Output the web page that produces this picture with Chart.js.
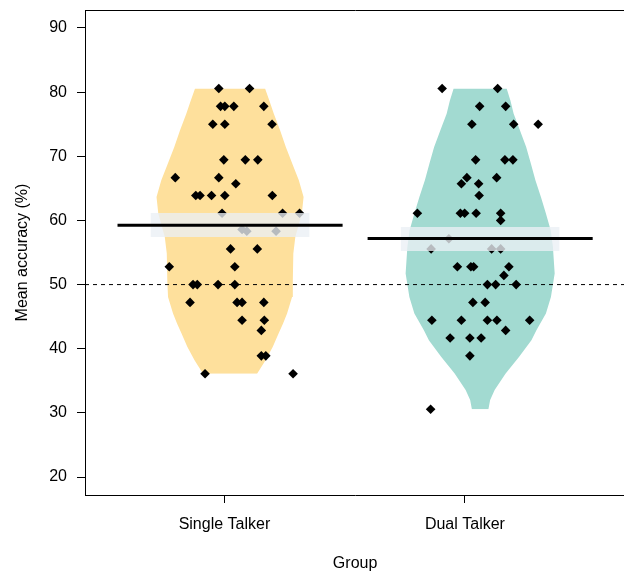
<!DOCTYPE html>
<html>
<head>
<meta charset="utf-8">
<script src="https://cdn.jsdelivr.net/npm/chart.js"></script>
<style>
  html, body { margin: 0; padding: 0; background: #fff; overflow: hidden; }
  #wrap { width: 630px; height: 571px; }
</style>
</head>
<body>
<div id="wrap"><canvas id="chart" width="630" height="571"></canvas></div>
<script>
// категории и подписи осей
const groups = ["Single Talker", "Dual Talker"];
const groupX = [1, 2];              // центры "бобов"
const tickX = [0.9775, 1.939];      // где стоят подписи групп
const yTicks = [20, 30, 40, 50, 60, 70, 80, 90];
const chance = 50;

// точки: точность (%) и горизонтальный разброс (jitter)
const singleAcc = [80.56, 80.56, 77.78, 77.78, 77.78, 77.78, 75, 75, 75, 69.44, 69.44, 69.44,
  66.67, 66.67, 65.71, 63.89, 63.89, 63.89, 63.89, 63.89, 61.11, 61.11, 61.11,
  58.6, 58.33, 58.33, 55.56, 55.56, 52.78, 52.78, 50, 50, 50, 50,
  47.22, 47.22, 47.22, 47.22, 44.44, 44.44, 42.86, 38.89, 38.89, 36.11, 36.11];
const singleJit = [-0.045, 0.078, -0.038, -0.021, 0.015, 0.135, -0.069, -0.021, 0.168, -0.025, 0.061, 0.111,
  -0.219, -0.045, 0.023, -0.137, -0.120, -0.074, -0.021, 0.169, -0.032, 0.210, 0.278,
  0.048, 0.067, 0.184, 0.002, 0.109, -0.243, 0.019, -0.148, -0.131, -0.048, 0.019,
  -0.160, 0.028, 0.048, 0.135, 0.048, 0.137, 0.125, 0.125, 0.143, -0.100, 0.252];

const dualAcc = [80.56, 80.56, 77.78, 77.78, 75, 75, 75, 69.44, 69.44, 69.44,
  66.67, 66.67, 65.71, 65.71, 63.89, 61.11, 61.11, 61.11, 61.11, 61.11, 60, 57.14,
  55.56, 55.56, 55.56, 52.78, 52.78, 52.78, 52.78, 51.43, 50, 50, 50, 47.22, 47.22,
  44.44, 44.44, 44.44, 44.44, 44.44, 42.86, 41.67, 41.67, 41.67, 38.89, 30.56];
const dualJit = [-0.152, 0.070, -0.002, 0.102, -0.033, 0.134, 0.232, -0.018, 0.099, 0.131,
  -0.053, 0.066, -0.075, -0.006, -0.004, -0.251, -0.079, -0.062, -0.016, 0.082, 0.082, -0.125,
  -0.196, 0.046, 0.082, -0.091, -0.037, -0.026, 0.115, 0.095, 0.029, 0.062, 0.144, -0.029, 0.020,
  -0.193, -0.075, 0.029, 0.067, 0.198, 0.102, -0.120, -0.041, 0.004, -0.041, -0.198];

// форма "бобов": уровень по y и полуширина (в единицах оси x)
const singleLevels = [36.11, 38.22, 40.29, 42.38, 43.94, 45.49, 48.08, 50.68, 54.84, 57.42,
  61.07, 63.65, 66.25, 68.85, 71.44, 74.04, 76.64, 78.71, 80.56];
const singleHalf = [0.108, 0.142, 0.171, 0.194, 0.212, 0.228, 0.248, 0.251, 0.253, 0.261,
  0.287, 0.294, 0.275, 0.249, 0.223, 0.200, 0.175, 0.157, 0.140];
const dualLevels = [30.56, 32.0, 33.55, 36.15, 38.74, 41.34, 42.89, 45.49, 48.08, 51.72,
  55.86, 58.47, 61.07, 63.65, 66.25, 68.85, 71.44, 74.04, 76.64, 78.71, 80.56];
const dualHalf = [0.033, 0.040, 0.058, 0.102, 0.156, 0.205, 0.225, 0.263, 0.283, 0.298,
  0.291, 0.282, 0.263, 0.243, 0.221, 0.203, 0.184, 0.159, 0.134, 0.121, 0.106];

// среднее и интервал (HDI)
const means = [59.24, 57.17];
const hdiLow = [57.42, 55.24];
const hdiHigh = [61.16, 58.98];

const beanColors = ["rgb(254,224,156)", "rgb(162,218,209)"];
const bandColor = "rgba(234,240,245,0.78)";
const font = { family: "'Liberation Sans', Arial, sans-serif", size: 16 };

function beanDatasets(i, levels, half) {
    const c = groupX[i];
    return [{
        data: levels.map((v, k) => ({ x: c + half[k], y: v })),
        fill: "+1", backgroundColor: beanColors[i], borderWidth: 0, pointRadius: 0, order: 10
    }, {
        data: levels.map((v, k) => ({ x: c - half[k], y: v })),
        fill: false, borderWidth: 0, pointRadius: 0, order: 10
    }];
}

function pointDataset(i, acc, jit) {
    return {
        data: acc.map((v, k) => ({ x: groupX[i] + jit[k], y: v })),
        showLine: false, pointStyle: "rectRot", pointRadius: 4.8,
        pointBackgroundColor: "#000", pointBorderWidth: 0, order: 6
    };
}

function bandDataset(i) {
    const c = groupX[i];
    return {
        data: [{ x: c + 0.317, y: hdiLow[i] }, { x: c + 0.317, y: hdiHigh[i] }],
        fill: { value: c - 0.317 }, backgroundColor: bandColor, borderWidth: 0, pointRadius: 0, order: 4
    };
}

function meanDataset(i) {
    const c = groupX[i];
    return {
        data: [{ x: c - 0.45, y: means[i] }, { x: c + 0.45, y: means[i] }],
        borderColor: "#000", borderWidth: 3, pointRadius: 0, fill: false, order: 2
    };
}

const datasets = [
    ...beanDatasets(0, singleLevels, singleHalf),
    ...beanDatasets(1, dualLevels, dualHalf),
    {
        data: [{ x: 0.42, y: chance }, { x: 2.58, y: chance }],
        borderColor: "#000", borderWidth: 1, borderDash: [4, 4], pointRadius: 0, fill: false, order: 8
    },
    pointDataset(0, singleAcc, singleJit),
    pointDataset(1, dualAcc, dualJit),
    bandDataset(0), bandDataset(1),
    meanDataset(0), meanDataset(1)
];
datasets.forEach(d => { d.xAxisID = "x"; d.yAxisID = "y"; });

new Chart(document.getElementById("chart").getContext("2d"), {
    type: "line",
    data: { datasets },
    options: {
        indexAxis: "y",
        responsive: false,
        animation: false,
        devicePixelRatio: 1,
        layout: { padding: { top: 10, right: 1, left: 0, bottom: 0 } },
        plugins: { legend: { display: false }, tooltip: { enabled: false } },
        elements: { line: { tension: 0, borderCapStyle: "butt" } },
        scales: {
            x: {
                type: "linear", position: "bottom", min: 0.42, max: 2.58,
                afterBuildTicks: s => { s.ticks = tickX.map(v => ({ value: v })); },
                afterFit: s => { s.height = 76; s.paddingLeft = 0; s.paddingRight = 0; },
                ticks: { callback: (v, i) => groups[i], font, color: "#000", padding: 12, autoSkip: false, maxRotation: 0 },
                grid: { drawOnChartArea: false, tickLength: 8, color: "#000" },
                border: { color: "#000" },
                title: { display: true, text: "Group", font, color: "#000", padding: { top: 0, bottom: -2 } }
            },
            y: {
                type: "linear", position: "left", min: 17.2, max: 92.8,
                afterBuildTicks: s => { s.ticks = yTicks.map(v => ({ value: v })); },
                afterFit: s => { s.width = 85; s.paddingTop = 0; s.paddingBottom = 0; },
                ticks: { font, color: "#000", padding: 10 },
                grid: { drawOnChartArea: false, tickLength: 8, color: "#000" },
                border: { color: "#000" },
                title: { display: true, text: "Mean accuracy (%)", font, color: "#000", padding: { top: 13, bottom: 0 } }
            },
            xTop: {
                type: "linear", position: "top", min: 0.42, max: 2.58,
                ticks: { display: false },
                grid: { display: false, drawTicks: false },
                border: { display: true, color: "#000" },
                afterFit: s => { s.height = 0; s.paddingLeft = 0; s.paddingRight = 0; }
            }
        }
    }
});
</script>
</body>
</html>
